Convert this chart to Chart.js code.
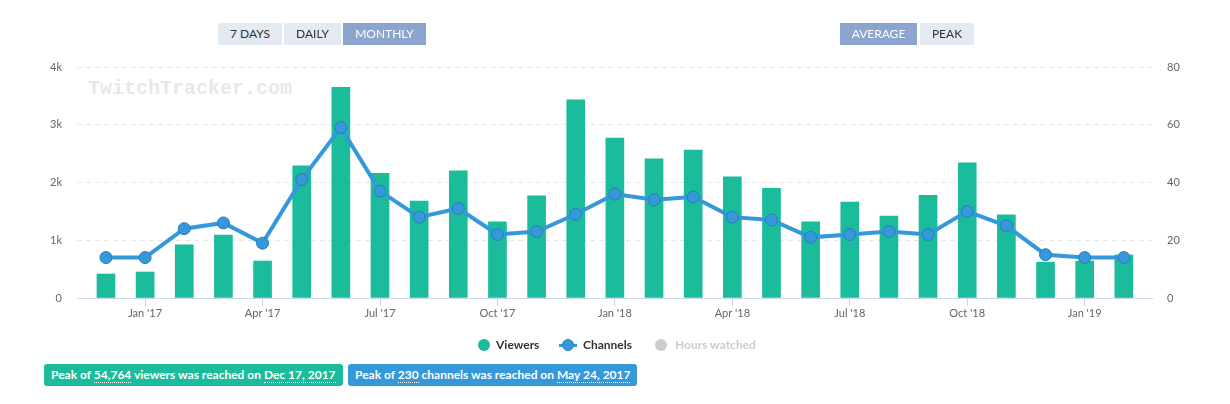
<!DOCTYPE html>
<html>
<head>
<meta charset="utf-8">
<script src="https://cdn.jsdelivr.net/npm/chart.js@4/dist/chart.umd.min.js"></script>
<style>
  html, body { margin: 0; padding: 0; background: #fff; }
  body { width: 1230px; height: 404px; position: relative; overflow: hidden; font-family: Lato, 'Noto Sans', sans-serif; }
  #wrap { position: absolute; left: 0; top: 0; width: 1230px; height: 404px; }
  .watermark { position: absolute; left: 88px; top: 77px; font: bold 20px 'Liberation Mono', monospace; color: #e8e8e8; }
  .btn { position: absolute; top: 23px; height: 22px; line-height: 22px; text-align: center; font-size: 12px; color: #333; background: #e3eaf2; }
  .btn.active { background: #8ba5cf; color: #fff; }
  .legend { position: absolute; top: 337px; font-size: 12px; font-weight: bold; color: #333; line-height: 16px; }
  .legend .dot { position: absolute; width: 12px; height: 12px; border-radius: 50%; top: 2px; }
  .badge { position: absolute; top: 364px; height: 22px; line-height: 22px; padding: 0 7px; border-radius: 3px; color: #fff; font-size: 12px; font-weight: bold; white-space: nowrap; }
  .badge u { text-decoration: none; border-bottom: 1px dotted #fff; }
</style>
</head>
<body>
<div class="watermark">TwitchTracker.com</div>
<div id="wrap"><canvas id="chart"></canvas></div>

<div class="btn" style="left:218px;width:64px">7 DAYS</div>
<div class="btn" style="left:284px;width:57px">DAILY</div>
<div class="btn active" style="left:343px;width:83px">MONTHLY</div>
<div class="btn active" style="left:840px;width:77px">AVERAGE</div>
<div class="btn" style="left:920px;width:54px">PEAK</div>

<div class="legend" style="left:478px"><span class="dot" style="left:0;background:#1abc9c"></span><span style="margin-left:18px">Viewers</span></div>
<div class="legend" style="left:559px">
  <span style="position:absolute;left:0;top:7px;width:18px;height:3px;background:#3498db"></span>
  <span class="dot" style="left:3px;background:#3498db;box-sizing:border-box;border:1px solid #2b7cb5"></span>
  <span style="margin-left:24px">Channels</span>
</div>
<div class="legend" style="left:655px;color:#ccc"><span class="dot" style="left:0;background:#ccc"></span><span style="margin-left:20px">Hours watched</span></div>

<div class="badge" style="left:44px;background:#1abc9c">Peak of <u>54,764</u> viewers was reached on <u>Dec 17, 2017</u></div>
<div class="badge" style="left:348px;background:#3498db">Peak of <u>230</u> channels was reached on <u>May 24, 2017</u></div>

<script>
// months Dec 2016 .. Feb 2019
const months = [
  "Dec '16", "Jan '17", "Feb '17", "Mar '17", "Apr '17", "May '17", "Jun '17", "Jul '17", "Aug '17",
  "Sep '17", "Oct '17", "Nov '17", "Dec '17", "Jan '18", "Feb '18", "Mar '18", "Apr '18", "May '18",
  "Jun '18", "Jul '18", "Aug '18", "Sep '18", "Oct '18", "Nov '18", "Dec '18", "Jan '19", "Feb '19"
]
const viewers = [
  415, 450, 920, 1090, 640, 2290, 3650, 2160, 1680,
  2200, 1320, 1770, 3430, 2770, 2410, 2560, 2100, 1900,
  1320, 1660, 1420, 1780, 2340, 1440, 620, 640, 745
]
const channels = [
  14, 14, 24, 26, 19, 41, 59, 37, 28,
  31, 22, 23, 29, 36, 34, 35, 28, 27,
  21, 22, 23, 22, 30, 25, 15, 14, 14
]
// x ticks shown at Jan / Apr / Jul / Oct
const tickMonths = [1, 4, 7, 10, 13, 16, 19, 22, 25]
const viewerTicks = [0, 1000, 2000, 3000, 4000]
const channelTicks = [0, 20, 40, 60, 80]

const tickFont = { family: 'Lato', size: 11 }

new Chart(document.getElementById('chart'), {
  type: 'bar',
  data: {
    datasets: [
      {
        type: 'line',
        label: 'Channels',
        data: channels.map((v, i) => ({ x: i, y: v })),
        yAxisID: 'channels',
        borderColor: '#3498db',
        borderWidth: 4,
        pointRadius: 6,
        pointBackgroundColor: '#3498db',
        pointBorderColor: '#2b7cb5',
        pointBorderWidth: 1,
        tension: 0,
        order: 0
      },
      {
        label: 'Viewers',
        data: viewers.map((v, i) => ({ x: i, y: v })),
        yAxisID: 'viewers',
        backgroundColor: '#1abc9c',
        barThickness: 18,
        order: 1
      }
    ]
  },
  options: {
    responsive: true,
    maintainAspectRatio: false,
    animation: false,
    layout: { padding: { top: 67, left: 0, right: 0, bottom: 0 } },
    plugins: { legend: { display: false }, tooltip: { enabled: false } },
    scales: {
      x: {
        type: 'linear',
        offset: false,
        min: -0.74,
        max: 26.72,
        afterBuildTicks: (axis) => { axis.ticks = tickMonths.map(v => ({ value: v })) },
        afterFit: (axis) => { axis.height = 106 },
        ticks: {
          autoSkip: false,
          maxRotation: 0,
          padding: 1,
          color: '#666',
          font: tickFont,
          callback: (v) => months[v]
        },
        grid: { offset: false, drawOnChartArea: false, drawTicks: true, tickLength: 8, color: '#ccd6eb' },
        border: { color: '#ccd6eb', width: 1 }
      },
      viewers: {
        type: 'linear',
        position: 'left',
        min: 0,
        max: 4000,
        afterBuildTicks: (axis) => { axis.ticks = viewerTicks.map(v => ({ value: v })) },
        afterFit: (axis) => { axis.width = 77 },
        ticks: {
          padding: 15,
          color: '#666',
          font: tickFont,
          callback: (v) => v === 0 ? '0' : (v / 1000) + 'k'
        },
        grid: { color: '#e6e6e6', drawTicks: false },
        border: { display: false, dash: [5, 4] }
      },
      channels: {
        type: 'linear',
        position: 'right',
        min: 0,
        max: 80,
        afterBuildTicks: (axis) => { axis.ticks = channelTicks.map(v => ({ value: v })) },
        afterFit: (axis) => { axis.width = 78 },
        ticks: { padding: 15, color: '#666', font: tickFont },
        grid: { drawOnChartArea: false, drawTicks: false },
        border: { display: false }
      }
    }
  }
})
</script>
</body>
</html>
